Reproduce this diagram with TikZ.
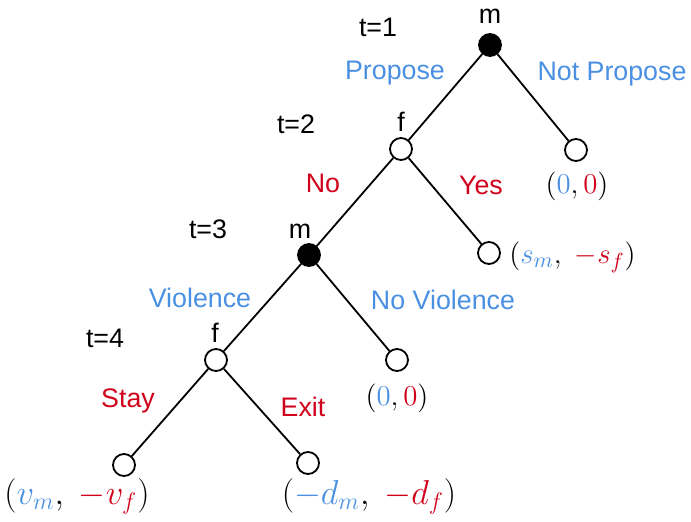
\documentclass[tikz,border=0pt]{standalone}
\usepackage{fontspec}
\setmainfont{Liberation Sans}
\definecolor{cblue}{RGB}{74,144,226}
\definecolor{cred}{RGB}{208,2,27}
\begin{document}
\begin{tikzpicture}[x=0.5pt,y=-0.5pt,
  dec/.style={circle,draw,line width=0.9pt,minimum size=11pt,inner sep=0pt},
  decm/.style={dec,fill=black},
  decf/.style={dec,fill=white},
  edge/.style={line width=0.9pt},
  lbl/.style={font=\fontsize{13.4}{15}\selectfont,inner sep=0pt},
  blab/.style={lbl,text=cblue},
  rlab/.style={lbl,text=cred},
  pay/.style={font=\fontsize{15}{17}\selectfont,inner sep=0pt},
  bigpay/.style={font=\fontsize{16.5}{18}\selectfont,inner sep=0pt}]
\useasboundingbox (0,0) rectangle (691,521);
% nodes
\node[decm] (n1) at (490,45) {};
\node[decf] (n2) at (401,149) {};
\node[decf] (l1) at (576,150) {};
\node[decm] (n3) at (309,255) {};
\node[decf] (l2) at (489,253) {};
\node[decf] (n4) at (216,360) {};
\node[decf] (l3) at (397,360) {};
\node[decf] (l4) at (124,465) {};
\node[decf] (l5) at (308,463) {};
% edges
\draw[edge] (n1) -- (n2);
\draw[edge] (n1) -- (l1);
\draw[edge] (n2) -- (n3);
\draw[edge] (n2) -- (l2);
\draw[edge] (n3) -- (n4);
\draw[edge] (n3) -- (l3);
\draw[edge] (n4) -- (l4);
\draw[edge] (n4) -- (l5);
% player labels
\node[lbl] (p1) at (490,16) {m};
\node[lbl] (p2) at (401,122) {f};
\node[lbl] (p3) at (300,231) {m};
\node[lbl] (p4) at (215,333) {f};
% time labels
\node[lbl] (t1) at (378,27) {t=1};
\node[lbl] (t2) at (296,124) {t=2};
\node[lbl] (t3) at (208,229) {t=3};
\node[lbl] (t4) at (105,338) {t=4};
% action labels
\node[blab] (a1) at (395,73) {Propose};
\node[blab] (a2) at (612,74) {Not Propose};
\node[rlab] (a3) at (323,183) {No};
\node[rlab] (a4) at (481,185) {Yes};
\node[blab] (a5) at (200,298) {Violence};
\node[blab] (a6) at (443,300) {No Violence};
\node[rlab] (a7) at (128,401) {Stay};
\node[rlab] (a8) at (303,407) {Exit};
% payoffs
\node[pay] (q1) at (577,186) {$(\textcolor{cblue}{0},\textcolor{cred}{0})$};
\node[pay,anchor=west] (q2) at (509,257) {$(\textcolor{cblue}{s_m},\ \textcolor{cred}{-s_f})$};
\node[pay] (q3) at (397,398) {$(\textcolor{cblue}{0},\textcolor{cred}{0})$};
\node[bigpay] (q4) at (77,496) {$(\textcolor{cblue}{v_m},\ \textcolor{cred}{-v_f})$};
\node[bigpay] (q5) at (369,496) {$(\textcolor{cblue}{-d_m},\ \textcolor{cred}{-d_f})$};
\end{tikzpicture}
\end{document}
